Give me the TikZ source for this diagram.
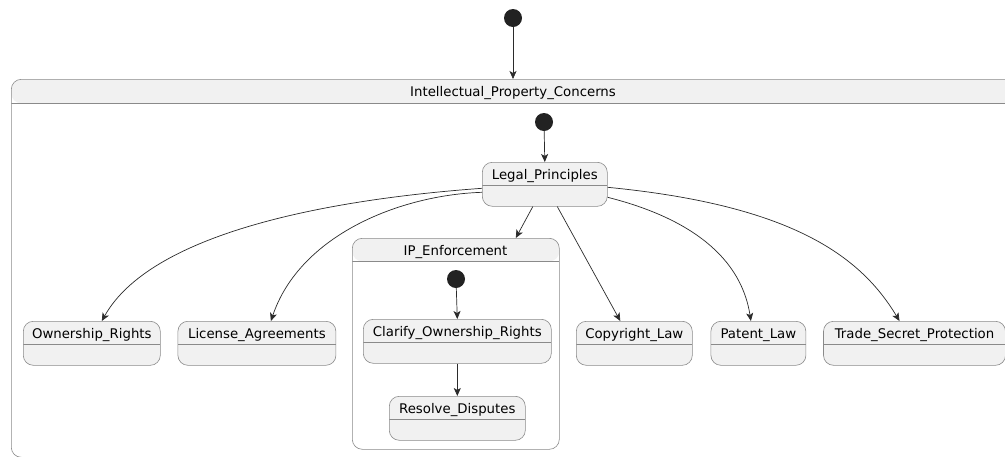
\documentclass[tikz,border=0pt]{standalone}
\usepackage{fontspec}
\setmainfont{DejaVu Sans}
\usetikzlibrary{arrows.meta,positioning}
\usepackage{xcolor}
\definecolor{cfill}{HTML}{F1F1F1}
\definecolor{cline}{HTML}{8A8A8A}
\definecolor{cedge}{HTML}{2B2B2B}
\definecolor{cdot}{HTML}{222222}

\begin{document}
\begin{tikzpicture}[
  x=1pt, y=-1pt,
  font=\fontsize{13.3}{15}\selectfont,
  state/.style={draw=cline, line width=0.6pt, fill=cfill, rounded corners=10pt,
                minimum height=44pt, inner xsep=0pt, inner ysep=0pt,
                text height=17pt, text depth=27pt, anchor=north west,
                path picture={\draw[cline, line width=0.6pt]
                  ([yshift=-23pt]path picture bounding box.north west) --
                  ([yshift=-23pt]path picture bounding box.north east);}},
  composite/.style={draw=cline, line width=0.6pt, fill=white, rounded corners=10pt,
                inner sep=0pt, anchor=north west,
                path picture={\fill[cfill]
                  (path picture bounding box.north west) rectangle
                  ([yshift=-#1]path picture bounding box.north east);
                  \draw[cline, line width=0.6pt]
                  ([yshift=-#1]path picture bounding box.north west) --
                  ([yshift=-#1]path picture bounding box.north east);}},
  title/.style={anchor=base, inner sep=0pt},
  dot/.style={circle, fill=cdot, minimum size=18pt, inner sep=0pt},
  edge/.style={-{Stealth[length=8pt,width=7pt,inset=2pt]}, draw=cedge, line width=0.7pt}
]
\clip (0,0) rectangle (1005,456);

% composite states
\node[composite=24pt, minimum width=1009pt, minimum height=378pt] (ipc) at (11,79) {};
\node[title] (ipctitle) at (513,96) {Intellectual\_Property\_Concerns};
\node[composite=23pt, minimum width=207pt, minimum height=211pt] (ipe) at (352,238) {};
\node[title] (ipetitle) at (455.5,255) {IP\_Enforcement};

% initial states
\node[dot] (start) at (513,18) {};
\node[dot] (start2) at (544,122) {};
\node[dot] (start3) at (456,279) {};

% states
\node[state, minimum width=125pt] (lp) at (482,162) {Legal\_Principles};
\node[state, minimum width=137pt] (own) at (23,321) {Ownership\_Rights};
\node[state, minimum width=158pt, right=17pt of own] (lic) {License\_Agreements};
\node[state, minimum width=188pt] (clar) at (363,319) {Clarify\_Ownership\_Rights};
\node[state, minimum width=136pt] (res) at (389,396) {Resolve\_Disputes};
\node[state, minimum width=116pt] (cop) at (576,321) {Copyright\_Law};
\node[state, minimum width=95pt, right=18pt of cop] (pat) {Patent\_Law};
\node[state, minimum width=182pt, right=17pt of pat] (trade) {Trade\_Secret\_Protection};

% transitions
\draw[edge] (start) -- (start |- ipc.north);
\draw[edge] (start2) -- (lp.north);
\draw[edge] (start3) -- (clar.north);
\draw[edge] (clar) -- (res);
\draw[edge] ([yshift=-4pt]lp.west) .. controls (320,200) and (150,235) .. ([xshift=10pt]own.north);
\draw[edge] ([yshift=-8pt]lp.west) .. controls (400,195) and (300,235) .. ([xshift=14pt]lic.north);
\draw[edge] ([xshift=-12pt]lp.south) -- ([xshift=60pt]ipe.north);
\draw[edge] ([xshift=12.5pt]lp.south) -- ([xshift=-14pt]cop.north);
\draw[edge] ([yshift=-13pt]lp.east) .. controls (678,215) and (740,250) .. ([xshift=-7.5pt]pat.north);
\draw[edge] ([yshift=-3pt]lp.east) .. controls (790,205) and (860,255) .. ([xshift=-15pt]trade.north);
\end{tikzpicture}
\end{document}
